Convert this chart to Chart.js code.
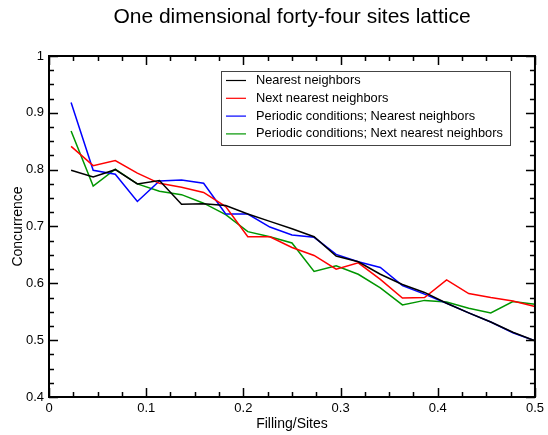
<!DOCTYPE html>
<html>
<head>
<meta charset="utf-8">
<script src="https://cdn.jsdelivr.net/npm/chart.js@4"></script>
<style>
  html, body { margin: 0; padding: 0; background: #fff; }
</style>
</head>
<body>
<canvas id="chart" width="548" height="435"></canvas>
<script>
// data: filling = k/44, k = 1..22
var filling = [];
for (var k = 1; k <= 22; k++) filling.push(k / 44);

var nearest = [0.799, 0.787, 0.800, 0.775, 0.781, 0.739, 0.740, 0.737, 0.722, 0.709, 0.696,
    0.682, 0.648, 0.638, 0.616, 0.598, 0.584, 0.565, 0.548, 0.532, 0.514, 0.499];
var nextNearest = [0.841, 0.807, 0.816, 0.794, 0.776, 0.769, 0.760, 0.735, 0.682, 0.682, 0.663,
    0.649, 0.625, 0.636, 0.607, 0.574, 0.575, 0.606, 0.582, 0.575, 0.569, 0.559];
var periodicNearest = [0.918, 0.799, 0.792, 0.744, 0.780, 0.782, 0.776, 0.722, 0.722, 0.699, 0.685,
    0.681, 0.651, 0.638, 0.628, 0.596, 0.581, 0.565, 0.548, 0.532, 0.513, 0.499];
var periodicNext = [0.868, 0.771, 0.801, 0.775, 0.762, 0.756, 0.741, 0.721, 0.691, 0.682, 0.671,
    0.621, 0.631, 0.616, 0.592, 0.562, 0.570, 0.567, 0.556, 0.548, 0.568, 0.563];

var seriesNames = ["Nearest neighbors", "Next nearest neighbors",
    "Periodic conditions; Nearest neighbors", "Periodic conditions; Next nearest neighbors"];
var seriesColors = ["#000000", "#ff0000", "#0000ff", "#009600"];

var xTickLabels = ["0", "0.1", "0.2", "0.3", "0.4", "0.5"];
var yTickLabels = ["0.4", "0.5", "0.6", "0.7", "0.8", "0.9", "1"];

var FONT = '"Liberation Sans", Arial, sans-serif';

function pts(ys) {
    return ys.map(function (y, i) { return { x: filling[i], y: y }; });
}

// inward ticks on all four sides + frame, title, boxed legend
var framePlugin = {
    id: "frame",
    afterDraw: function (chart) {
        var c = chart.ctx, a = chart.chartArea;
        var xs = chart.scales.x, ys = chart.scales.y;
        c.save();
        c.strokeStyle = "#000";
        c.lineWidth = 2;
        c.strokeRect(a.left, a.top, a.right - a.left, a.bottom - a.top);
        c.lineWidth = 1.5;
        c.beginPath();
        for (var i = 0; i <= 20; i++) {
            var v = i * 0.025;
            var len = (i % 4 === 0) ? 9 : 5;
            var px = Math.round(xs.getPixelForValue(v)) + 0.5;
            c.moveTo(px, a.bottom); c.lineTo(px, a.bottom - len);
            c.moveTo(px, a.top); c.lineTo(px, a.top + len);
        }
        for (var j = 0; j <= 24; j++) {
            var w = 0.4 + j * 0.025;
            var l2 = (j % 4 === 0) ? 9 : 5;
            var py = Math.round(ys.getPixelForValue(w)) + 0.5;
            c.moveTo(a.left, py); c.lineTo(a.left + l2, py);
            c.moveTo(a.right, py); c.lineTo(a.right - l2, py);
        }
        c.stroke();

        // title
        c.fillStyle = "#000";
        c.font = "21px " + FONT;
        c.textAlign = "center";
        c.textBaseline = "middle";
        c.fillText("One dimensional forty-four sites lattice", (a.left + a.right) / 2, 17);

        // legend
        c.lineWidth = 1;
        c.strokeStyle = "#444";
        c.strokeRect(221.5, 71.5, 289, 74);
        c.font = "12.8px " + FONT;
        c.textAlign = "left";
        for (var s = 0; s < seriesNames.length; s++) {
            var ry = 80.5 + s * 17.8;
            c.strokeStyle = seriesColors[s];
            c.lineWidth = 1.2;
            c.beginPath();
            c.moveTo(226, ry); c.lineTo(246, ry);
            c.stroke();
            c.fillStyle = "#000";
            c.fillText(seriesNames[s], 256, ry);
        }
        c.restore();
    }
};

var ctx = document.getElementById("chart").getContext("2d");
var myChart = new Chart(ctx, {
    type: "line",
    data: {
        datasets: [nearest, nextNearest, periodicNearest, periodicNext].map(function (d, i) {
            return {
                label: seriesNames[i],
                data: pts(d),
                borderColor: seriesColors[i],
                backgroundColor: seriesColors[i],
                borderWidth: 1.5,
                pointRadius: 0,
                tension: 0,
                fill: false,
            };
        }),
    },
    options: {
        responsive: false,
        animation: false,
        layout: { padding: { top: 56, right: 12, left: 0, bottom: 0 } },
        plugins: {
            legend: { display: false },
            tooltip: { enabled: false },
            title: { display: false },
        },
        scales: {
            x: {
                type: "linear",
                min: 0,
                max: 0.5,
                afterFit: function (s) { s.height = 38; },
                grid: { display: false, drawTicks: false },
                border: { display: false },
                ticks: {
                    stepSize: 0.1,
                    padding: 4,
                    maxRotation: 0,
                    color: "#000",
                    font: { size: 13, family: FONT },
                    callback: function (value) {
                        return xTickLabels[Math.round(value * 10)];
                    },
                },
                title: {
                    display: true,
                    text: "Filling/Sites",
                    color: "#000",
                    font: { size: 14, family: FONT },
                    padding: { top: 0, bottom: 2 },
                },
            },
            y: {
                min: 0.4,
                max: 1,
                afterFit: function (s) { s.width = 49; },
                grid: { display: false, drawTicks: false },
                border: { display: false },
                ticks: {
                    stepSize: 0.1,
                    padding: 5,
                    color: "#000",
                    font: { size: 13, family: FONT },
                    callback: function (value) {
                        return yTickLabels[Math.round((value - 0.4) * 10)];
                    },
                },
                title: {
                    display: true,
                    text: "Concurrence",
                    color: "#000",
                    font: { size: 14, family: FONT },
                    padding: { top: 10, bottom: 0 },
                },
            },
        },
    },
    plugins: [framePlugin],
});
</script>
</body>
</html>
